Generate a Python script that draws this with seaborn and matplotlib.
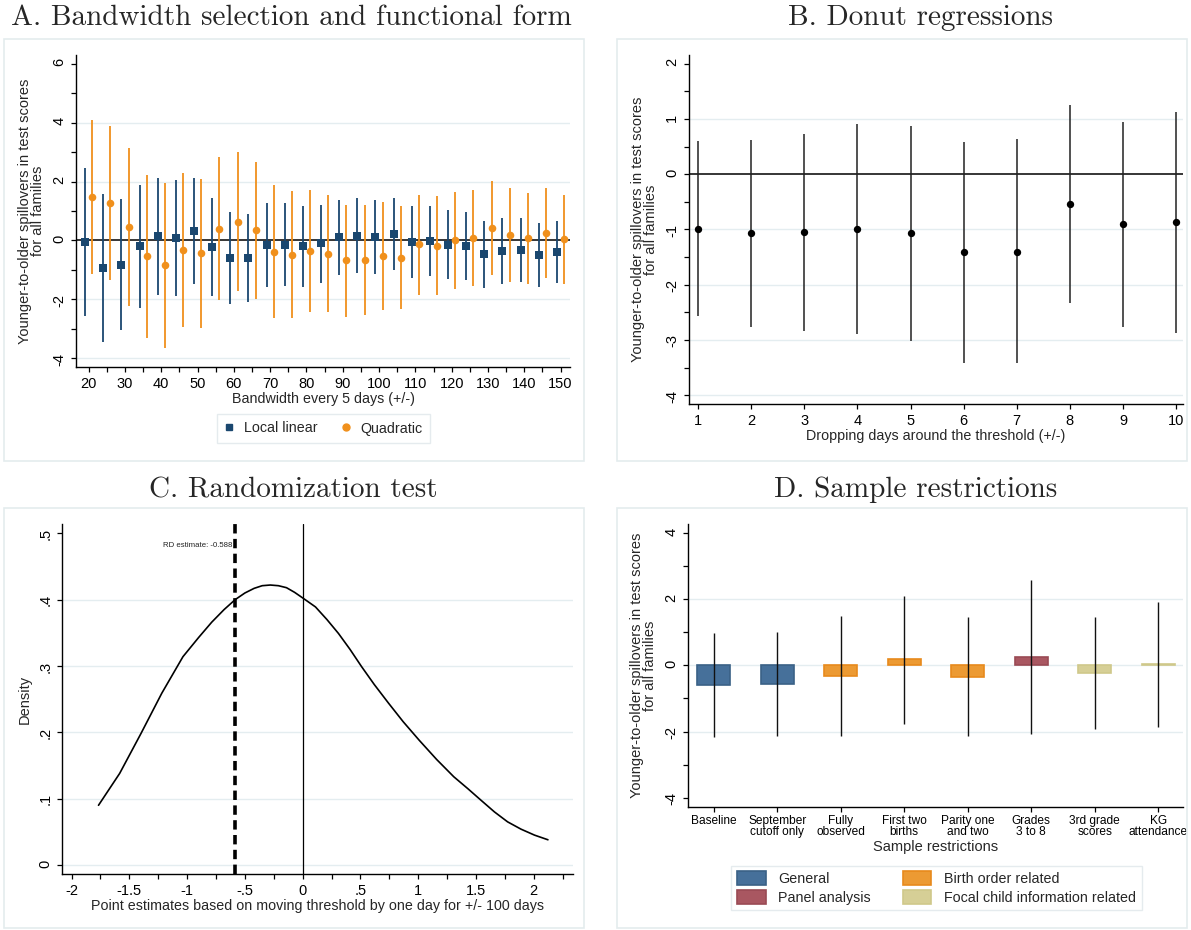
import numpy as np
import pandas as pd
import matplotlib
matplotlib.use("Agg")
import matplotlib.pyplot as plt
import seaborn as sns
from matplotlib.patches import Rectangle, Patch
from matplotlib.lines import Line2D
from matplotlib.ticker import FixedLocator, FixedFormatter

sns.set_theme(style="white")
plt.rcParams['font.family'] = ['Liberation Sans', 'DejaVu Sans']
plt.rcParams['axes.unicode_minus'] = False

# ---------------- Panel A data ----------------
bandwidths = list(range(20, 151, 5))
ll_est = [-0.05, -0.94, -0.82, -0.20, 0.15, 0.08, 0.32, -0.24, -0.59, -0.59, -0.16, -0.14,
          -0.19, -0.10, 0.10, 0.16, 0.12, 0.23, -0.06, -0.01, -0.14, -0.19, -0.46, -0.36,
          -0.33, -0.50, -0.39]
ll_hi = [2.47, 1.58, 1.41, 1.88, 2.13, 2.05, 2.11, 1.44, 0.98, 0.91, 1.28, 1.27,
         1.18, 1.21, 1.38, 1.44, 1.39, 1.44, 1.16, 1.17, 1.03, 0.95, 0.66, 0.77,
         0.77, 0.59, 0.67]
ll_lo = [-2.56, -3.46, -3.05, -2.29, -1.85, -1.89, -1.47, -1.90, -2.15, -2.09, -1.59, -1.54,
         -1.58, -1.43, -1.19, -1.11, -1.15, -1.00, -1.26, -1.20, -1.30, -1.34, -1.61, -1.47,
         -1.42, -1.58, -1.44]
q_est = [1.47, 1.27, 0.46, -0.53, -0.85, -0.31, -0.44, 0.40, 0.63, 0.34, -0.39, -0.48,
         -0.35, -0.45, -0.68, -0.65, -0.53, -0.58, -0.12, -0.18, 0.01, 0.08, 0.43, 0.20,
         0.07, 0.26, 0.05]
q_hi = [4.09, 3.90, 3.15, 2.24, 1.94, 2.30, 2.10, 2.82, 3.00, 2.66, 1.88, 1.69,
        1.71, 1.53, 1.22, 1.22, 1.30, 1.18, 1.56, 1.50, 1.66, 1.70, 2.02, 1.77,
        1.60, 1.79, 1.54]
q_lo = [-1.13, -1.36, -2.22, -3.31, -3.64, -2.94, -2.97, -2.02, -1.73, -1.98, -2.65, -2.64,
        -2.43, -2.43, -2.59, -2.54, -2.38, -2.32, -1.85, -1.87, -1.64, -1.55, -1.17, -1.41,
        -1.47, -1.27, -1.47]

# ---------------- Panel B data ----------------
donut_days = list(range(1, 11))
donut_est = [-0.99, -1.07, -1.04, -0.99, -1.07, -1.41, -1.40, -0.54, -0.90, -0.87]
donut_hi = [0.60, 0.62, 0.73, 0.91, 0.87, 0.59, 0.63, 1.25, 0.95, 1.13]
donut_lo = [-2.57, -2.77, -2.83, -2.89, -3.02, -3.42, -3.42, -2.34, -2.77, -2.87]

# ---------------- Panel C data ----------------
perm_x = [-1.767, -1.584, -1.40, -1.219, -1.036, -0.90, -0.787, -0.680, -0.584, -0.50,
          -0.42, -0.35, -0.28, -0.21, -0.14, -0.07, 0.005, 0.111, 0.21, 0.31, 0.41,
          0.51, 0.62, 0.743, 0.87, 1.009, 1.16, 1.308, 1.43, 1.541, 1.66, 1.774,
          1.89, 2.007, 2.123]
perm_density = [0.090, 0.138, 0.198, 0.259, 0.314, 0.343, 0.366, 0.385, 0.400, 0.410,
                0.417, 0.421, 0.422, 0.421, 0.418, 0.411, 0.402, 0.389, 0.370, 0.349, 0.325,
                0.299, 0.272, 0.244, 0.216, 0.188, 0.159, 0.133, 0.115, 0.098, 0.080, 0.065,
                0.054, 0.045, 0.038]
rd_estimate = -0.588

# ---------------- Panel D data ----------------
restrictions = ["Baseline", "September\ncutoff only", "Fully\nobserved", "First two\nbirths",
                "Parity one\nand two", "Grades\n3 to 8", "3rd grade\nscores", "KG\nattendance"]
restr_group = ["General", "General", "Birth order related", "Birth order related",
               "Birth order related", "Panel analysis", "Focal child information related",
               "Focal child information related"]
restr_est = [-0.60, -0.56, -0.33, 0.18, -0.35, 0.26, -0.24, 0.04]
restr_hi = [0.97, 1.00, 1.48, 2.09, 1.45, 2.58, 1.45, 1.90]
restr_lo = [-2.17, -2.12, -2.15, -1.76, -2.15, -2.08, -1.92, -1.86]
group_order = ["General", "Panel analysis", "Birth order related", "Focal child information related"]
group_fill = {"General": "#46709a", "Birth order related": "#ec9a33",
              "Panel analysis": "#a95761", "Focal child information related": "#d6cf96"}
group_edge = {"General": "#3a6186", "Birth order related": "#e88a1c",
              "Panel analysis": "#9a4a54", "Focal child information related": "#cfc88a"}

NAVY = "#1a476f"
ORANGE = "#f0901c"
GRID = "#e4edf0"
BORDER = "#e4ecee"

W, H = 1191, 930
fig = plt.figure(figsize=(W / 100, H / 100), dpi=100)
fig.patch.set_facecolor("white")


def rect(l, t, r, b):
    return [l / W, 1 - b / H, (r - l) / W, (b - t) / H]


def box(l, t, r, b):
    fig.add_artist(Rectangle((l / W, 1 - b / H), (r - l) / W, (b - t) / H,
                             transform=fig.transFigure, fill=False, ec=BORDER, lw=1.2))


def style_axes(ax):
    for s in ["top", "right"]:
        ax.spines[s].set_visible(False)
    for s in ["left", "bottom"]:
        ax.spines[s].set_color("black")
        ax.spines[s].set_linewidth(1.0)
    ax.tick_params(axis="both", which="both", direction="out", length=3.5, width=0.9,
                   color="black", labelcolor="black", bottom=True, left=True)
    ax.tick_params(axis="y", labelrotation=90)
    ax.set_facecolor("white")
    ax.grid(False)


# panel borders
box(4, 39, 584, 461)
box(617, 39, 1187, 461)
box(4, 508, 584, 928)
box(617, 508, 1187, 928)

TFONT = dict(family="cmr10", fontsize=21)
fig.text(291 / W, 1 - 18 / H, "A. Bandwidth selection and functional form", ha="center", va="center", **TFONT)
fig.text(921 / W, 1 - 18 / H, "B. Donut regressions", ha="center", va="center", **TFONT)
fig.text(293 / W, 1 - 490 / H, "C. Randomization test", ha="center", va="center", **TFONT)
fig.text(916 / W, 1 - 490 / H, "D. Sample restrictions", ha="center", va="center", **TFONT)

YLAB = "Younger-to-older spillovers in test scores\nfor all families"

# ================= Panel A =================
axA = fig.add_axes(rect(76, 55, 570, 367))
style_axes(axA)
for g in [-4, -2, 2, 4]:
    axA.axhline(g, color=GRID, lw=1.0, zorder=0)
axA.axhline(0, color="black", lw=1.1, zorder=1)
x_ll = np.array(bandwidths) - 1
x_q = np.array(bandwidths) + 1
axA.vlines(x_ll, ll_lo, ll_hi, color=NAVY, lw=1.3, zorder=2)
axA.vlines(x_q, q_lo, q_hi, color=ORANGE, lw=1.3, zorder=2)
dfA1 = pd.DataFrame({"x": x_ll, "y": ll_est})
dfA2 = pd.DataFrame({"x": x_q, "y": q_est})
sns.scatterplot(data=dfA1, x="x", y="y", ax=axA, marker="s", s=26, color=NAVY,
                edgecolor=NAVY, linewidth=0, zorder=3)
sns.scatterplot(data=dfA2, x="x", y="y", ax=axA, marker="o", s=30, color=ORANGE,
                edgecolor=ORANGE, linewidth=0, zorder=3)
axA.set_xlim(16.5, 152.6)
axA.set_ylim(-4.3, 6.3)
axA.xaxis.set_major_locator(FixedLocator(list(range(20, 151, 10))))
axA.xaxis.set_minor_locator(FixedLocator(list(range(25, 151, 10))))
axA.yaxis.set_major_locator(FixedLocator([-4, -2, 0, 2, 4, 6]))
axA.yaxis.set_minor_locator(FixedLocator([-3, -1, 1, 3, 5]))
axA.tick_params(axis="both", which="major", labelsize=10.5)
axA.set_xlabel("Bandwidth every 5 days (+/-)", fontsize=10.3, labelpad=1)
axA.set_ylabel(YLAB, fontsize=10.5, labelpad=5, linespacing=0.95)
legA = [Line2D([], [], marker="s", color=NAVY, ls="none", markersize=5, label="Local linear"),
        Line2D([], [], marker="o", color=ORANGE, ls="none", markersize=5, label="Quadratic")]
fig.legend(handles=legA, loc="center", bbox_to_anchor=(323 / W, 1 - 428.5 / H), ncol=2,
           frameon=True, fancybox=False, edgecolor="#dfe7ea", fontsize=10.3,
           handlelength=0.8, handletextpad=0.6, columnspacing=1.6, borderpad=0.5)

# ================= Panel B =================
axB = fig.add_axes(rect(689, 55, 1183, 404))
style_axes(axB)
for g in [-4, -3, -2, -1, 1]:
    axB.axhline(g, color=GRID, lw=1.0, zorder=0)
axB.axhline(0, color="black", lw=1.1, zorder=1)
axB.vlines(donut_days, donut_lo, donut_hi, color="#222222", lw=1.1, zorder=2)
dfB = pd.DataFrame({"x": donut_days, "y": donut_est})
sns.scatterplot(data=dfB, x="x", y="y", ax=axB, marker="o", s=28, color="black",
                edgecolor="black", linewidth=0, zorder=3)
axB.set_xlim(0.83, 10.13)
axB.set_ylim(-4.16, 2.16)
axB.xaxis.set_major_locator(FixedLocator(donut_days))
axB.yaxis.set_major_locator(FixedLocator([-4, -3, -2, -1, 0, 1, 2]))
axB.yaxis.set_minor_locator(FixedLocator([-3.5, -2.5, -1.5, -0.5, 0.5, 1.5]))
axB.tick_params(axis="both", which="major", labelsize=10.5)
axB.set_xlabel("Dropping days around the threshold (+/-)", fontsize=10.3, labelpad=1)
axB.set_ylabel(YLAB, fontsize=10.5, labelpad=5, linespacing=0.95)

# ================= Panel C =================
axC = fig.add_axes(rect(62, 524, 573, 874))
style_axes(axC)
for g in [0, 0.1, 0.2, 0.3, 0.4]:
    axC.axhline(g, color=GRID, lw=1.0, zorder=0)
dfC = pd.DataFrame({"x": perm_x, "density": perm_density})
sns.lineplot(data=dfC, x="x", y="density", ax=axC, color="black", lw=1.2, sort=False, zorder=3)
axC.axvline(0, color="black", lw=0.9, zorder=2)
axC.axvline(rd_estimate, color="black", lw=2.6, ls=(0, (2.6, 1.5)), zorder=4)
axC.text(rd_estimate - 0.02, 0.481, f"RD estimate: {rd_estimate}", fontsize=5.6,
         ha="right", va="center", color="#222222")
axC.set_xlim(-2.083, 2.34)
axC.set_ylim(-0.0136, 0.514)
c_xticks = [-2, -1.5, -1, -0.5, 0, 0.5, 1, 1.5, 2]
c_xticklabels = ["-2", "-1.5", "-1", "-.5", "0", ".5", "1", "1.5", "2"]
c_yticks = [0, 0.1, 0.2, 0.3, 0.4, 0.5]
c_yticklabels = ["0", ".1", ".2", ".3", ".4", ".5"]
axC.xaxis.set_major_locator(FixedLocator(c_xticks))
axC.xaxis.set_major_formatter(FixedFormatter(c_xticklabels))
axC.xaxis.set_minor_locator(FixedLocator([-1.75, -1.25, -0.75, -0.25, 0.25, 0.75, 1.25, 1.75, 2.25]))
axC.yaxis.set_major_locator(FixedLocator(c_yticks))
axC.yaxis.set_major_formatter(FixedFormatter(c_yticklabels))
axC.tick_params(axis="both", which="major", labelsize=10.5)
axC.set_xlabel("Point estimates based on moving threshold by one day for +/- 100 days",
               fontsize=10.3, labelpad=1)
axC.set_ylabel("Density", fontsize=10.5, labelpad=5)

# ================= Panel D =================
axD = fig.add_axes(rect(688, 524, 1183, 807))
style_axes(axD)
for g in [-2, 0, 2]:
    axD.axhline(g, color=GRID, lw=1.0, zorder=0)
dfD = pd.DataFrame({"restriction": restrictions, "group": restr_group, "est": restr_est})
for grp in group_order:
    sub = dfD[dfD["group"] == grp]
    sns.barplot(data=sub, x="restriction", y="est", order=restrictions, ax=axD,
                color=group_fill[grp], edgecolor=group_edge[grp], linewidth=1.2,
                width=0.52, saturation=1, errorbar=None, zorder=2)
axD.vlines(range(len(restrictions)), restr_lo, restr_hi, color="#111111", lw=1.0, zorder=3)
axD.set_xlim(-0.404, 7.39)
axD.set_ylim(-4.28, 4.27)
axD.yaxis.set_major_locator(FixedLocator([-4, -2, 0, 2, 4]))
axD.yaxis.set_minor_locator(FixedLocator([-3, -1, 1, 3]))
axD.tick_params(axis="y", which="major", labelsize=10.5)
axD.tick_params(axis="x", which="major", labelsize=8.6, pad=2)
for lab in axD.get_xticklabels():
    lab.set_linespacing(0.95)
axD.set_xlabel("Sample restrictions", fontsize=10.5, labelpad=1)
axD.set_ylabel(YLAB, fontsize=10.5, labelpad=5, linespacing=0.95)
legD = [Patch(facecolor=group_fill[g], edgecolor=group_edge[g], lw=1.2, label=g) for g in group_order]
fig.legend(handles=legD, loc="center", bbox_to_anchor=(936.5 / W, 1 - 888 / H), ncol=2,
           frameon=True, fancybox=False, edgecolor="#dfe7ea", fontsize=10.3,
           handlelength=2.0, handleheight=1.1, handletextpad=0.9, columnspacing=2.2,
           borderpad=0.4, labelspacing=0.25)

fig.savefig("out.png", dpi=100)
